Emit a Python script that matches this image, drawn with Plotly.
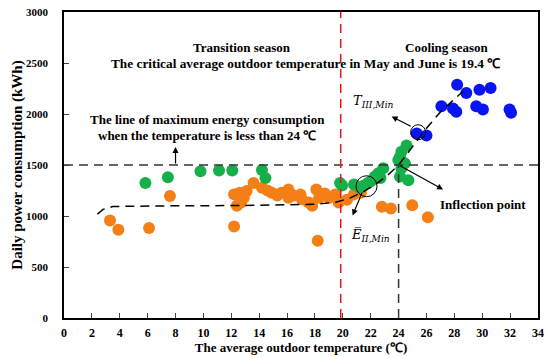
import plotly.graph_objects as go

# ---------------- data ----------------
orange_x = [3.3, 3.9, 6.1, 7.6, 12.2, 12.2, 12.6, 12.9, 12.7, 12.4, 13.1, 13.6, 14.2, 14.9, 15.6,
            16.1, 16.1, 16.96, 17.07, 17.55, 17.8, 18.1, 18.3, 19.0, 19.46, 19.7, 18.2, 14.6, 15.3,
            16.5, 18.7, 20.8, 21.3, 20.3, 22.8, 23.45, 24.98, 26.1]
orange_y = [956, 865, 882, 1196, 898, 1212, 1228, 1180, 1132, 1100, 1245, 1324, 1276, 1228, 1228,
            1260, 1180, 1212, 1163, 1132, 1100, 1260, 1180, 1180, 1212, 1132, 757, 1250, 1200,
            1200, 1220, 1212, 1228, 1160, 1090, 1074, 1106, 987]

green_x = [5.84, 7.45, 9.79, 11.12, 12.07, 14.2, 14.45, 19.8, 19.95, 20.8, 21.2, 21.8, 21.5, 22.0,
           22.3, 22.55, 22.7, 22.9, 23.98, 24.1, 24.2, 24.1, 24.45, 24.57, 24.2, 24.7]
green_y = [1324, 1379, 1439, 1446, 1446, 1452, 1372, 1324, 1300, 1308, 1276, 1324, 1300, 1340,
           1388, 1420, 1372, 1468, 1548, 1581, 1468, 1388, 1516, 1692, 1629, 1350]

blue_x = [25.3, 26.0, 27.07, 27.9, 28.14, 28.2, 28.86, 29.57, 29.8, 30.05, 30.6, 31.96, 32.07]
blue_y = [1810, 1789, 2077, 2055, 2023, 2286, 2205, 2077, 2238, 2045, 2254, 2045, 2013]

curve_x = [2.4, 2.8, 3.5, 5, 8, 12, 16, 18, 19.5, 20.5, 21.5, 22.5, 23.3, 24, 25, 26, 27, 28.6]
curve_y = [1019, 1065, 1093, 1097, 1100, 1102, 1108, 1115, 1135, 1175, 1240, 1325, 1410, 1500,
           1680, 1860, 2020, 2221]

max_line_y = 1500
critical_x = 19.85
inflection_x = 24
e_min = (21.7, 1292)
t_min = (25.4, 1821)

x_ticks = list(range(0, 35, 2))
y_ticks = list(range(0, 3001, 500))

SERIF = "Liberation Serif"
DASH = "9px,6px"

fig = go.Figure()

fig.add_trace(go.Scatter(x=orange_x, y=orange_y, mode="markers",
                         marker=dict(color="#F57F17", size=12), showlegend=False))
fig.add_trace(go.Scatter(x=green_x, y=green_y, mode="markers",
                         marker=dict(color="#16B04A", size=12), showlegend=False))
fig.add_trace(go.Scatter(x=blue_x, y=blue_y, mode="markers",
                         marker=dict(color="#0A14F0", size=12), showlegend=False))

# fitted curve
fig.add_trace(go.Scatter(x=curve_x, y=curve_y, mode="lines",
                         line=dict(color="black", width=1.5, dash=DASH), showlegend=False))

# horizontal max line
fig.add_trace(go.Scatter(x=[0, 34], y=[max_line_y, max_line_y], mode="lines",
                         line=dict(color="#333333", width=1.3, dash=DASH), showlegend=False))
# red critical line
fig.add_trace(go.Scatter(x=[critical_x, critical_x], y=[0, 3000], mode="lines",
                         line=dict(color="#E8141B", width=1.5, dash=DASH), showlegend=False))
# black vertical at 24
fig.add_trace(go.Scatter(x=[inflection_x, inflection_x], y=[0, max_line_y], mode="lines",
                         line=dict(color="#333333", width=1.5, dash=DASH), showlegend=False))

# open circles
fig.add_trace(go.Scatter(x=[e_min[0]], y=[e_min[1]], mode="markers",
                         marker=dict(symbol="circle-open", size=21, color="black", line=dict(width=1)),
                         showlegend=False))
fig.add_trace(go.Scatter(x=[t_min[0]], y=[t_min[1]], mode="markers",
                         marker=dict(symbol="circle-open", size=15, color="black", line=dict(width=1)),
                         showlegend=False))

bold = dict(family=SERIF, size=13, color="black", weight="bold")

def txt(x, y, s, font=bold):
    fig.add_annotation(x=x, y=y, xref="x", yref="y", text=s, showarrow=False, font=font)

txt(12.74, 2651, "Transition season")
txt(27.45, 2651, "Cooling season")
txt(17.34, 2497, "The critical average outdoor temperature in May and June is 19.4 ℃",
    dict(family=SERIF, size=13.3, color="black", weight="bold"))
txt(10.26, 1949, "The line of maximum energy consumption")
txt(10.26, 1788, "when the temperature is less than 24 ℃")
txt(30.05, 1115, "Inflection point")

math_font = dict(family="DejaVu Serif", size=13, color="black")
txt(21.96, 811, "<i>E\u0305</i><sub><i>II,Min</i></sub>", math_font)
txt(22.19, 2125, "<i>T</i><sub><i>III,Min</i></sub>", math_font)

def arrow(x, y, ax, ay):
    fig.add_annotation(x=x, y=y, ax=ax, ay=ay, xref="x", yref="y", axref="x", ayref="y",
                       text="", showarrow=True, arrowhead=2, arrowsize=1, arrowwidth=1.2,
                       arrowcolor="black")

arrow(8.0, 1677, 8.0, max_line_y)
arrow(27.19, 1260, inflection_x, max_line_y)
arrow(20.7, 1005, 21.43, 1244)
arrow(23.5, 1975, 24.98, 1872)

fig.update_xaxes(range=[0, 34], tickvals=x_ticks, ticks="inside", ticklen=5, tickwidth=1.3,
                 showline=True, linecolor="black", linewidth=1.5, mirror=True,
                 showgrid=False, zeroline=False, ticklabelstandoff=3,
                 tickfont=dict(family=SERIF, size=12, color="black", weight="bold"),
                 title=dict(text="The average outdoor temperature (℃)", standoff=0,
                            font=dict(family=SERIF, size=13, color="black", weight="bold")))
fig.update_yaxes(range=[0, 3000], tickvals=y_ticks, ticks="inside", ticklen=5, tickwidth=1.3,
                 showline=True, linecolor="black", linewidth=1.5, mirror=True,
                 showgrid=False, zeroline=False, ticklabelstandoff=12,
                 tickfont=dict(family=SERIF, size=11, color="black", weight="bold"),
                 title=dict(text="Daily power consumption (kWh)", standoff=0,
                            font=dict(family=SERIF, size=15, color="black", weight="bold")))

fig.update_layout(width=550, height=358, margin=dict(l=64, r=9, t=6, b=40),
                  plot_bgcolor="white", paper_bgcolor="white")

fig.write_html("out.html", config={"displayModeBar": False},
               post_script="document.body.style.margin='0px';")
